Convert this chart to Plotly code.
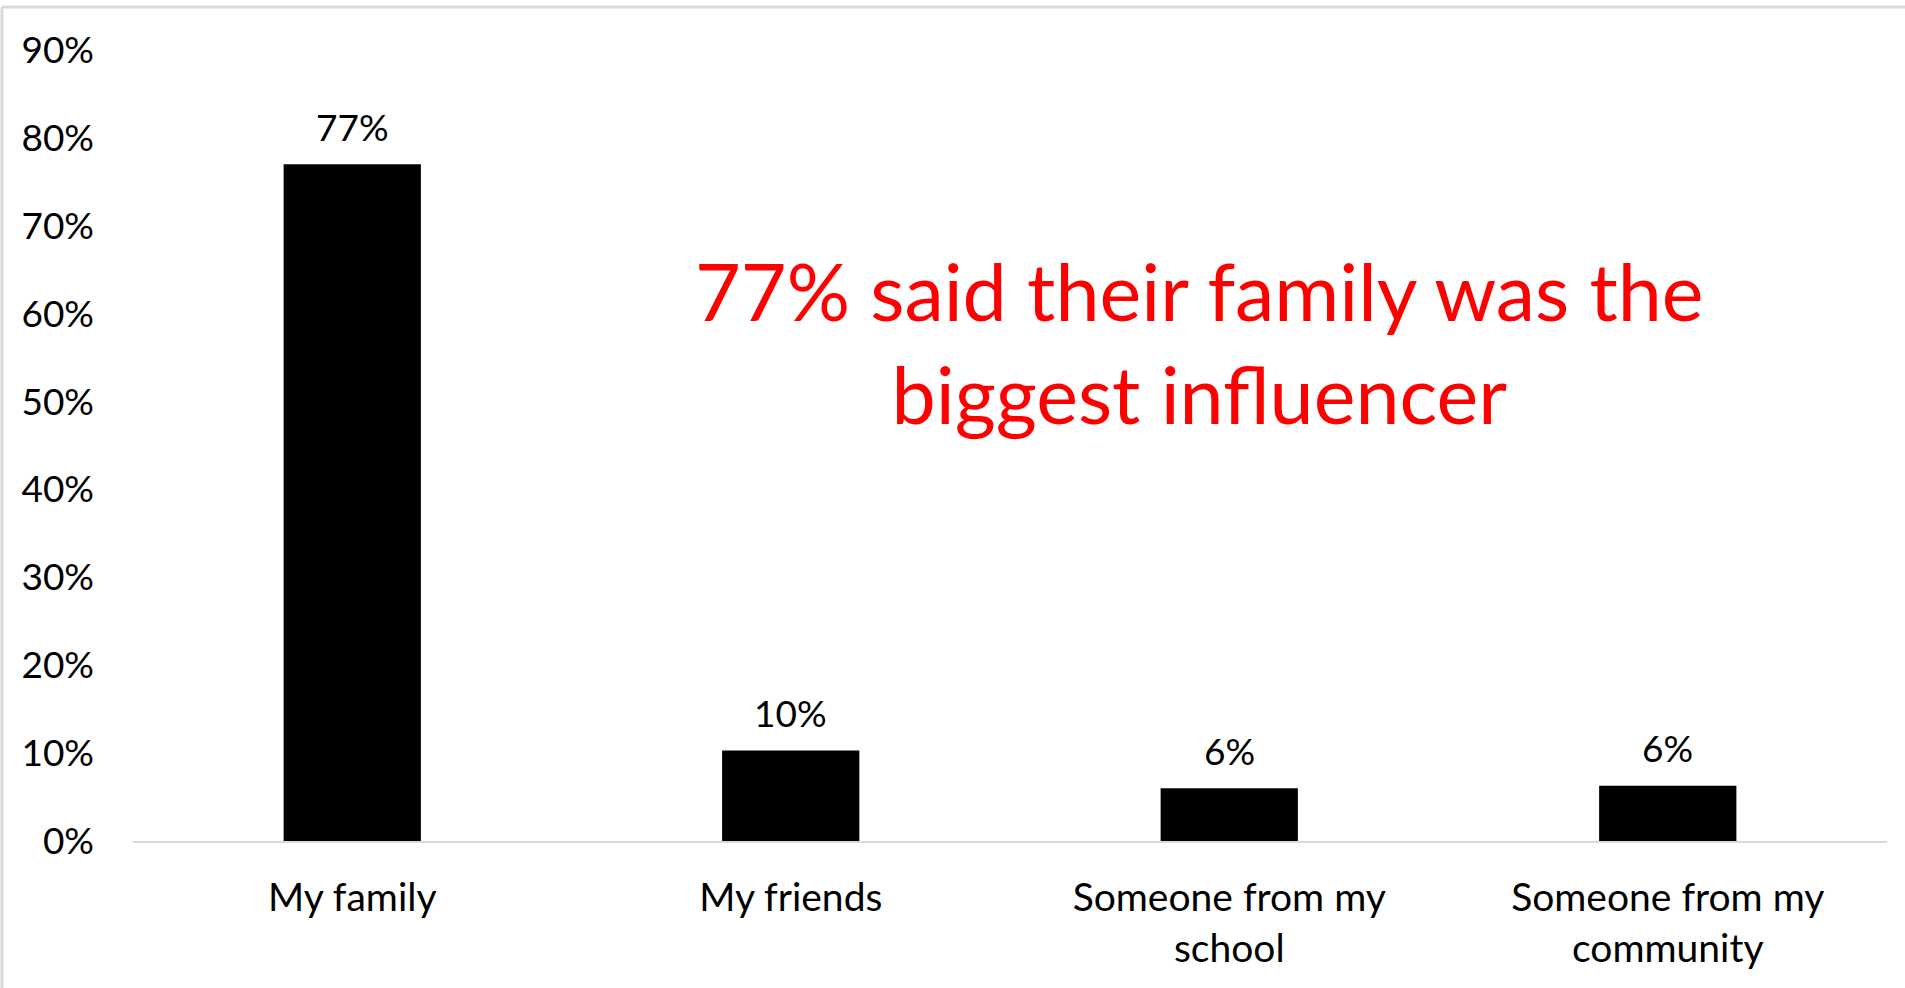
import plotly.graph_objects as go

categories = ["My family", "My friends", "Someone from my<br>school", "Someone from my<br>community"]
values = [0.77, 0.103, 0.060, 0.063]
value_labels = ["77%", "10%", "6%", "6%"]
tick_vals = [0, 0.1, 0.2, 0.3, 0.4, 0.5, 0.6, 0.7, 0.8, 0.9]
tick_text = ["0%", "10%", "20%", "30%", "40%", "50%", "60%", "70%", "80%", "90%"]
callout = "77% said their family was the<br>biggest influencer"

W, H = 1905, 988
ML, MR, MT, MB = 133, 18, 50, 147
FONT = "Lato, 'Open Sans', sans-serif"

fig = go.Figure()
fig.add_trace(go.Bar(
    x=categories, y=values,
    marker=dict(color="#000000", line=dict(width=0)),
    hoverinfo="skip",
))

for c, v, t in zip(categories, values, value_labels):
    fig.add_annotation(x=c, y=v, text=t, showarrow=False, yanchor="middle",
                       yshift=38, font=dict(family=FONT, size=37, color="#000000"))

pw = W - ML - MR
ph = H - MT - MB
fig.add_annotation(xref="paper", yref="paper", x=(1199 - ML) / pw, y=(H - MB - 342) / ph,
                   text=callout, showarrow=False, xanchor="center", yanchor="middle",
                   align="center", font=dict(family=FONT, size=79, color="#FF0000"))

# outer chart border (top and left edges visible)
fig.add_shape(type="line", xref="paper", yref="paper",
              x0=(2 - ML) / pw, x1=(W + 5 - ML) / pw, y0=(H - MB - 7) / ph, y1=(H - MB - 7) / ph,
              line=dict(color="#d9d9d9", width=3))
fig.add_shape(type="line", xref="paper", yref="paper",
              x0=(2 - ML) / pw, x1=(2 - ML) / pw, y0=(H - MB - 7) / ph, y1=(H - MB - H - 5) / ph,
              line=dict(color="#d9d9d9", width=3))

fig.update_layout(
    width=W, height=H,
    margin=dict(l=ML, r=MR, t=MT, b=MB),
    paper_bgcolor="white", plot_bgcolor="white",
    bargap=0.687,
    showlegend=False,
    font=dict(family=FONT, size=37, color="#000000"),
    xaxis=dict(showline=True, linecolor="#d9d9d9", linewidth=2, showgrid=False,
               ticks="", ticklabelstandoff=21, tickfont=dict(size=39, color="#000000"),
               range=[-0.5, 3.5], fixedrange=True),
    yaxis=dict(range=[0, 0.9], tickvals=tick_vals, ticktext=tick_text, showgrid=False,
               zeroline=False, showline=False, ticks="", ticklabelstandoff=38,
               tickfont=dict(size=37, color="#000000"), fixedrange=True),
)

fig.write_html("out.html", config={"displayModeBar": False},
               post_script="document.body.style.margin='0';document.body.style.overflow='hidden';")
